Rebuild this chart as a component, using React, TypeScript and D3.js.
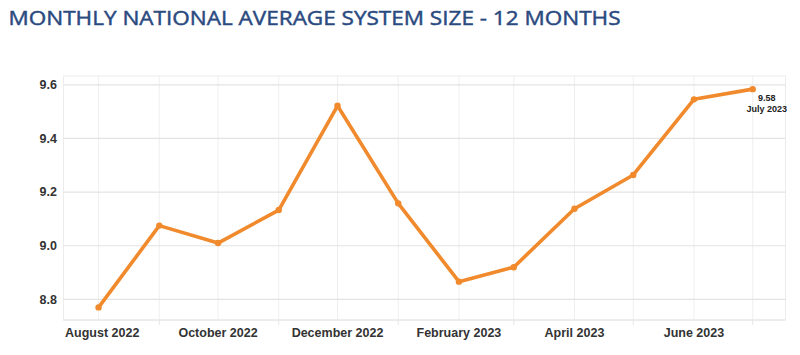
import React from "react";
import * as d3 from "d3";

const months: string[] = [
  "2022-08", "2022-09", "2022-10", "2022-11", "2022-12", "2023-01",
  "2023-02", "2023-03", "2023-04", "2023-05", "2023-06", "2023-07",
];
const values: number[] = [8.77, 9.075, 9.01, 9.133, 9.522, 9.158, 8.866, 8.92, 9.138, 9.264, 9.546, 9.584];
const yTicks: number[] = [8.8, 9.0, 9.2, 9.4, 9.6];
const labeledMonths: string[] = ["2022-08", "2022-10", "2022-12", "2023-02", "2023-04", "2023-06"];
const monthNames: string[] = ["January", "February", "March", "April", "May", "June", "July", "August", "September", "October", "November", "December"];
const title = "MONTHLY NATIONAL AVERAGE SYSTEM SIZE - 12 MONTHS";

const parse = (s: string) => {
  const [y, m] = s.split("-").map(Number);
  return new Date(y, m - 1, 1);
};
const fmt = (d: Date) => `${monthNames[d.getMonth()]} ${d.getFullYear()}`;

export default function App() {
  const W = 800, H = 355;
  const left = 63.5, right = 785.5, top = 76, bottom = 320;
  const dates = months.map(parse);
  const x = d3.scaleTime()
    .domain([new Date(2022, 6, 14, 2), new Date(2023, 6, 17, 18)])
    .range([left, right]);
  const y = d3.scaleLinear().domain([8.723, 9.633]).range([bottom, top]);
  const line = d3.line<number>()
    .x((_, i) => x(dates[i]))
    .y((v) => y(v));
  const lastI = values.length - 1;
  const font = "'Liberation Sans', Arial, sans-serif";

  return (
    <svg width={W} height={H} style={{ position: "absolute", left: 0, top: 0, background: "#fff" }}>
      <text x={8.5} y={24.5} fontFamily="'Open Sans', sans-serif" fontSize={19.5} fontWeight={400}
        fill="#2a4a80" stroke="#2a4a80" strokeWidth={0.45} textLength={612} lengthAdjust="spacingAndGlyphs">{title}</text>

      {/* plot frame */}
      <rect x={left} y={top} width={right - left} height={bottom - top} fill="none" stroke="#ececec" strokeWidth={1} />

      {/* vertical grid */}
      {dates.map((d, i) => (
        <line key={"vg" + i} x1={x(d)} x2={x(d)} y1={top} y2={bottom} stroke="#efefef" strokeWidth={1} />
      ))}
      {/* minor ticks below axis for unlabeled months */}
      {months.map((m, i) => labeledMonths.includes(m) ? null : (
        <line key={"tk" + i} x1={x(dates[i])} x2={x(dates[i])} y1={bottom} y2={bottom + 5} stroke="#e6e6e6" strokeWidth={1} />
      ))}
      {/* horizontal grid */}
      {yTicks.map((t) => (
        <line key={"hg" + t} x1={left} x2={right} y1={y(t)} y2={y(t)} stroke="#e3e3e3" strokeWidth={1.2} />
      ))}
      <line x1={left} x2={right} y1={bottom} y2={bottom} stroke="#e3e3e3" strokeWidth={1.2} />

      {/* y labels */}
      {yTicks.map((t) => (
        <text key={"yl" + t} x={57} y={y(t) + 4.3} textAnchor="end" fontFamily={font} fontSize={12.5}
          fontWeight="bold" fill="#333">{t.toFixed(1)}</text>
      ))}

      {/* x labels */}
      {labeledMonths.map((m) => {
        const d = parse(m);
        const label = fmt(d);
        const half = label.length * 3.4;
        const cx = x(d);
        const clamp = cx - half < left + 1;
        return (
          <text key={"xl" + m} x={clamp ? left + 1.5 : cx} y={337} textAnchor={clamp ? "start" : "middle"}
            fontFamily={font} fontSize={12.5} fontWeight="bold" fill="#333">{label}</text>
        );
      })}

      {/* series */}
      <path d={line(values) || ""} fill="none" stroke="#f08a2c" strokeWidth={3.6} strokeLinejoin="round" strokeLinecap="round" />
      {values.map((v, i) => (
        <circle key={"pt" + i} cx={x(dates[i])} cy={y(v)} r={3.2} fill="#f08a2c" />
      ))}

      {/* last point annotation */}
      <text x={x(dates[lastI]) + 14} y={y(values[lastI]) + 11.5} textAnchor="middle" fontFamily={font}
        fontSize={9} fontWeight="bold" fill="#222">{values[lastI].toFixed(2)}</text>
      <text x={x(dates[lastI]) + 14} y={y(values[lastI]) + 22.5} textAnchor="middle" fontFamily={font}
        fontSize={9} fontWeight="bold" fill="#222">{fmt(dates[lastI])}</text>
    </svg>
  );
}
